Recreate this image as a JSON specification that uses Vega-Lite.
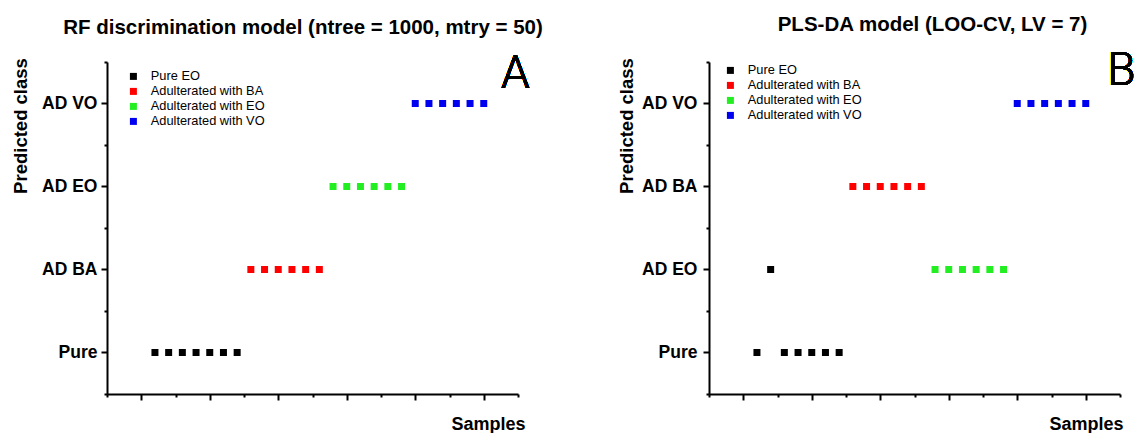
{
  "$schema": "https://vega.github.io/schema/vega-lite/v6.json",
  "background": "white",
  "padding": {"left": 11, "top": 15, "right": 0, "bottom": 0},
  "config": {
    "font": "Liberation Sans",
    "view": {"stroke": null},
    "axis": {"domainColor": "black", "domainWidth": 2, "tickColor": "black", "tickWidth": 2, "labelColor": "black", "titleColor": "black", "grid": false},
    "legend": {"orient": "none", "title": null, "symbolType": "square", "symbolSize": 49, "symbolStrokeWidth": 0, "labelFontSize": 12.8, "labelColor": "black", "rowPadding": 1, "labelOffset": 11, "padding": 0}
  },
  "datasets": {
    "rf": [
      {"sample": 1, "group": "Pure EO", "predicted": "Pure"},
      {"sample": 2, "group": "Pure EO", "predicted": "Pure"},
      {"sample": 3, "group": "Pure EO", "predicted": "Pure"},
      {"sample": 4, "group": "Pure EO", "predicted": "Pure"},
      {"sample": 5, "group": "Pure EO", "predicted": "Pure"},
      {"sample": 6, "group": "Pure EO", "predicted": "Pure"},
      {"sample": 7, "group": "Pure EO", "predicted": "Pure"},
      {"sample": 8, "group": "Adulterated with BA", "predicted": "AD BA"},
      {"sample": 9, "group": "Adulterated with BA", "predicted": "AD BA"},
      {"sample": 10, "group": "Adulterated with BA", "predicted": "AD BA"},
      {"sample": 11, "group": "Adulterated with BA", "predicted": "AD BA"},
      {"sample": 12, "group": "Adulterated with BA", "predicted": "AD BA"},
      {"sample": 13, "group": "Adulterated with BA", "predicted": "AD BA"},
      {"sample": 14, "group": "Adulterated with EO", "predicted": "AD EO"},
      {"sample": 15, "group": "Adulterated with EO", "predicted": "AD EO"},
      {"sample": 16, "group": "Adulterated with EO", "predicted": "AD EO"},
      {"sample": 17, "group": "Adulterated with EO", "predicted": "AD EO"},
      {"sample": 18, "group": "Adulterated with EO", "predicted": "AD EO"},
      {"sample": 19, "group": "Adulterated with EO", "predicted": "AD EO"},
      {"sample": 20, "group": "Adulterated with VO", "predicted": "AD VO"},
      {"sample": 21, "group": "Adulterated with VO", "predicted": "AD VO"},
      {"sample": 22, "group": "Adulterated with VO", "predicted": "AD VO"},
      {"sample": 23, "group": "Adulterated with VO", "predicted": "AD VO"},
      {"sample": 24, "group": "Adulterated with VO", "predicted": "AD VO"},
      {"sample": 25, "group": "Adulterated with VO", "predicted": "AD VO"}
    ],
    "pls": [
      {"sample": 1, "group": "Pure EO", "predicted": "Pure"},
      {"sample": 2, "group": "Pure EO", "predicted": "AD EO"},
      {"sample": 3, "group": "Pure EO", "predicted": "Pure"},
      {"sample": 4, "group": "Pure EO", "predicted": "Pure"},
      {"sample": 5, "group": "Pure EO", "predicted": "Pure"},
      {"sample": 6, "group": "Pure EO", "predicted": "Pure"},
      {"sample": 7, "group": "Pure EO", "predicted": "Pure"},
      {"sample": 8, "group": "Adulterated with BA", "predicted": "AD BA"},
      {"sample": 9, "group": "Adulterated with BA", "predicted": "AD BA"},
      {"sample": 10, "group": "Adulterated with BA", "predicted": "AD BA"},
      {"sample": 11, "group": "Adulterated with BA", "predicted": "AD BA"},
      {"sample": 12, "group": "Adulterated with BA", "predicted": "AD BA"},
      {"sample": 13, "group": "Adulterated with BA", "predicted": "AD BA"},
      {"sample": 14, "group": "Adulterated with EO", "predicted": "AD EO"},
      {"sample": 15, "group": "Adulterated with EO", "predicted": "AD EO"},
      {"sample": 16, "group": "Adulterated with EO", "predicted": "AD EO"},
      {"sample": 17, "group": "Adulterated with EO", "predicted": "AD EO"},
      {"sample": 18, "group": "Adulterated with EO", "predicted": "AD EO"},
      {"sample": 19, "group": "Adulterated with EO", "predicted": "AD EO"},
      {"sample": 20, "group": "Adulterated with VO", "predicted": "AD VO"},
      {"sample": 21, "group": "Adulterated with VO", "predicted": "AD VO"},
      {"sample": 22, "group": "Adulterated with VO", "predicted": "AD VO"},
      {"sample": 23, "group": "Adulterated with VO", "predicted": "AD VO"},
      {"sample": 24, "group": "Adulterated with VO", "predicted": "AD VO"},
      {"sample": 25, "group": "Adulterated with VO", "predicted": "AD VO"}
    ]
  },
  "spacing": 191,
  "bounds": "flush",
  "resolve": {"scale": {"y": "independent", "x": "independent"}, "legend": {"color": "independent"}},
  "hconcat": [
    {
      "width": 411,
      "height": 332,
      "title": {"text": "RF discrimination model (ntree = 1000, mtry = 50)", "fontSize": 20.5, "fontWeight": "bold", "color": "black", "anchor": "middle", "dx": -9.5, "baseline": "alphabetic", "offset": -4},
      "data": {"name": "rf"},
      "resolve": {"axis": {"y": "independent", "x": "independent"}},
      "layer": [
        {
          "mark": {"type": "square", "size": 49, "opacity": 1},
          "encoding": {
            "x": {"field": "sample", "type": "quantitative", "scale": {"domain": [-2.5, 27.5], "nice": false, "zero": false},
              "axis": {"orient": "bottom", "values": [0, 5, 10, 15, 20, 25], "labels": false, "tickSize": 6,
                "title": "Samples", "titleFontSize": 18, "titleFontWeight": "bold", "titleX": 418, "titleY": 35, "titleAlign": "right", "titleBaseline": "alphabetic"}},
            "y": {"field": "predicted", "type": "nominal", "scale": {"type": "band", "domain": ["AD VO", "AD EO", "AD BA", "Pure"], "paddingInner": 0, "paddingOuter": 0},
              "axis": {"orient": "left", "tickSize": 6, "labelFontSize": 17.5, "labelFontWeight": "bold", "labelPadding": 4,
                "title": "Predicted class", "titleFontSize": 18.5, "titleFontWeight": "bold", "titleAngle": -90, "titleX": -81, "titleY": 63.5, "titleAlign": "center", "titleBaseline": "alphabetic"}},
            "color": {"field": "group", "type": "nominal",
              "scale": {"domain": ["Pure EO", "Adulterated with BA", "Adulterated with EO", "Adulterated with VO"], "range": ["#000000", "#ff0000", "#22ee22", "#0000f0"]},
              "legend": {"legendX": 20, "legendY": 8}}
          }
        },
        {
          "mark": {"type": "square", "opacity": 0},
          "encoding": {
            "x": {"field": "sample", "type": "quantitative", "axis": {"orient": "bottom", "values": [-2.5, 2.5, 7.5, 12.5, 17.5, 22.5, 27.5], "labels": false, "domain": false, "tickSize": 3, "title": null}},
            "y": {"field": "predicted", "type": "nominal", "axis": {"orient": "left", "tickBand": "extent", "labels": false, "domain": false, "tickSize": 3, "title": null}}
          }
        },
        {
          "mark": {"type": "text", "text": "A", "font": "Roboto", "fontSize": 46, "fontWeight": 300, "align": "center", "baseline": "alphabetic", "dy": -16, "color": "black"},
          "encoding": {
            "x": {"datum": 27.3, "type": "quantitative", "axis": null},
            "y": {"datum": "AD VO", "type": "nominal", "axis": null}
          }
        }
      ]
    },
    {
      "width": 411,
      "height": 332,
      "title": {"text": "PLS-DA model (LOO-CV, LV = 7)", "fontSize": 20.5, "fontWeight": "bold", "color": "black", "anchor": "middle", "dx": 18, "baseline": "alphabetic", "offset": -4},
      "data": {"name": "pls"},
      "resolve": {"axis": {"y": "independent", "x": "independent"}},
      "layer": [
        {
          "mark": {"type": "square", "size": 49, "opacity": 1},
          "encoding": {
            "x": {"field": "sample", "type": "quantitative", "scale": {"domain": [-2.5, 27.5], "nice": false, "zero": false},
              "axis": {"orient": "bottom", "values": [0, 5, 10, 15, 20, 25], "labels": false, "tickSize": 6,
                "title": "Samples", "titleFontSize": 18, "titleFontWeight": "bold", "titleX": 414, "titleY": 35, "titleAlign": "right", "titleBaseline": "alphabetic"}},
            "y": {"field": "predicted", "type": "nominal", "scale": {"type": "band", "domain": ["AD VO", "AD BA", "AD EO", "Pure"], "paddingInner": 0, "paddingOuter": 0},
              "axis": {"orient": "left", "tickSize": 6, "labelFontSize": 17.5, "labelFontWeight": "bold", "labelPadding": 6,
                "title": "Predicted class", "titleFontSize": 18.5, "titleFontWeight": "bold", "titleAngle": -90, "titleX": -77, "titleY": 63.5, "titleAlign": "center", "titleBaseline": "alphabetic"}},
            "color": {"field": "group", "type": "nominal",
              "scale": {"domain": ["Pure EO", "Adulterated with BA", "Adulterated with EO", "Adulterated with VO"], "range": ["#000000", "#ff0000", "#22ee22", "#0000f0"]},
              "legend": {"legendX": 15, "legendY": 2}}
          }
        },
        {
          "mark": {"type": "square", "opacity": 0},
          "encoding": {
            "x": {"field": "sample", "type": "quantitative", "axis": {"orient": "bottom", "values": [-2.5, 2.5, 7.5, 12.5, 17.5, 22.5, 27.5], "labels": false, "domain": false, "tickSize": 3, "title": null}},
            "y": {"field": "predicted", "type": "nominal", "axis": {"orient": "left", "tickBand": "extent", "labels": false, "domain": false, "tickSize": 3, "title": null}}
          }
        },
        {
          "mark": {"type": "text", "text": "B", "font": "Roboto", "fontSize": 46, "fontWeight": 300, "align": "center", "baseline": "alphabetic", "dy": -19, "color": "black"},
          "encoding": {
            "x": {"datum": 27.6, "type": "quantitative", "axis": null},
            "y": {"datum": "AD VO", "type": "nominal", "axis": null}
          }
        }
      ]
    }
  ]
}
